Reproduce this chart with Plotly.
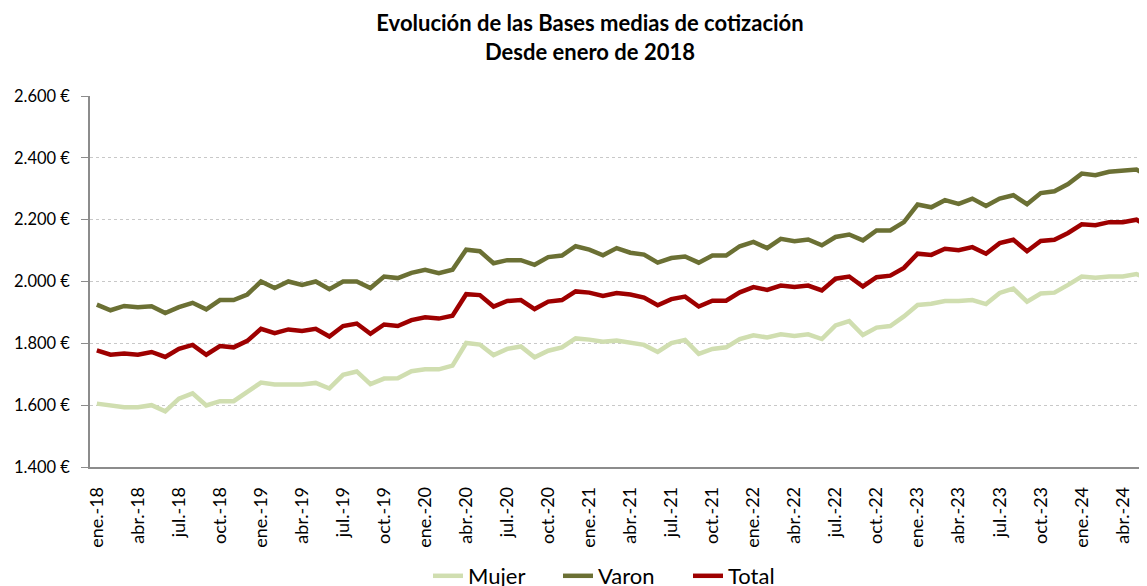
import plotly.graph_objects as go

# meses (etiquetas del eje X)
meses = ["ene.", "feb.", "mar.", "abr.", "may.", "jun.",
         "jul.", "ago.", "sep.", "oct.", "nov.", "dic."]
anios = ["18", "19", "20", "21", "22", "23", "24"]
fechas = [m + "-" + a for a in anios for m in meses][:78]

# bases medias de cotizacion (euros), ene-18 .. jun-24
mujer = [1605, 1599, 1593, 1593, 1600, 1580, 1621, 1638, 1599, 1613, 1613, 1643,
         1673, 1667, 1667, 1667, 1672, 1654, 1698, 1709, 1668, 1686, 1687, 1710,
         1716, 1716, 1728, 1801, 1796, 1762, 1782, 1790, 1755, 1776, 1787, 1816,
         1812, 1805, 1809, 1803, 1795, 1772, 1801, 1811, 1766, 1782, 1787, 1814,
         1826, 1819, 1829, 1824, 1829, 1814, 1858, 1872, 1827, 1851, 1856, 1887,
         1924, 1928, 1937, 1937, 1940, 1927, 1963, 1977, 1935, 1961, 1964, 1989,
         2016, 2012, 2016, 2016, 2024, 2007]

varon = [1925, 1907, 1921, 1917, 1920, 1898, 1917, 1931, 1910, 1940, 1940, 1958,
         2000, 1979, 2000, 1989, 2000, 1975, 2000, 2000, 1979, 2016, 2011, 2028,
         2038, 2027, 2038, 2103, 2098, 2059, 2069, 2069, 2054, 2079, 2084, 2114,
         2103, 2085, 2108, 2093, 2087, 2061, 2076, 2081, 2061, 2084, 2084, 2114,
         2128, 2108, 2138, 2130, 2136, 2117, 2144, 2152, 2133, 2165, 2165, 2192,
         2249, 2240, 2263, 2251, 2268, 2244, 2268, 2279, 2250, 2286, 2292, 2315,
         2349, 2344, 2355, 2358, 2362, 2337]

total = [1777, 1763, 1767, 1763, 1772, 1756, 1782, 1795, 1763, 1791, 1787, 1808,
         1847, 1833, 1845, 1840, 1847, 1822, 1856, 1864, 1831, 1861, 1856, 1875,
         1884, 1880, 1889, 1959, 1956, 1919, 1937, 1940, 1911, 1935, 1940, 1968,
         1964, 1953, 1963, 1958, 1948, 1923, 1943, 1951, 1919, 1938, 1938, 1965,
         1982, 1973, 1987, 1982, 1987, 1971, 2009, 2016, 1984, 2014, 2019, 2044,
         2090, 2086, 2106, 2101, 2111, 2090, 2124, 2135, 2098, 2131, 2135, 2157,
         2185, 2182, 2192, 2192, 2200, 2175]

y_ticks = [1400, 1600, 1800, 2000, 2200, 2400, 2600]
y_text = ["1.400 €", "1.600 €", "1.800 €", "2.000 €", "2.200 €", "2.400 €", "2.600 €"]

fuente = "Lato"
W, H = 1139, 578  # la pagina desplaza la figura 8px (margen del body)

fig = go.Figure()
fig.add_trace(go.Scatter(x=fechas, y=mujer, name="Mujer", mode="lines",
                         line=dict(color="#D0DEB0", width=4.5)))
fig.add_trace(go.Scatter(x=fechas, y=varon, name="Varon", mode="lines",
                         line=dict(color="#6B7034", width=4.5)))
fig.add_trace(go.Scatter(x=fechas, y=total, name="Total", mode="lines",
                         line=dict(color="#9E0000", width=4.5)))

fig.update_layout(
    width=W, height=H,
    paper_bgcolor="white", plot_bgcolor="white",
    font=dict(family=fuente, color="black", size=17),
    margin=dict(l=82, r=0, t=88, b=119, autoexpand=False),
    title=dict(text="<b>Evolución de las Bases medias de cotización<br>Desde enero de 2018</b>",
               x=582 / W, xanchor="center", y=1 - 23 / H, yanchor="middle",
               font=dict(size=22, family=fuente)),
    showlegend=True,
    legend=dict(orientation="h", xref="container", yref="container",
                x=420 / W, xanchor="left", y=10 / H, yanchor="middle",
                entrywidth=85, entrywidthmode="pixels",
                font=dict(size=22, family=fuente), bgcolor="rgba(0,0,0,0)"),
)

fig.update_xaxes(
    type="category", categoryorder="array", categoryarray=fechas,
    range=[-0.5, 76.77], automargin=False,
    tickmode="array", tickvals=fechas[::3], ticktext=fechas[::3],
    tickangle=-90, ticks="", ticklabelstandoff=11,
    showline=True, linecolor="#8C8C8C", linewidth=1.5,
    showgrid=False, zeroline=False,
    tickfont=dict(size=18),
)

fig.update_yaxes(
    range=[1400, 2600], automargin=False,
    tickmode="array", tickvals=y_ticks, ticktext=y_text,
    ticks="outside", ticklen=7, tickcolor="#8C8C8C", tickwidth=1,
    ticklabelstandoff=8,
    showline=True, linecolor="#8C8C8C", linewidth=1.5,
    showgrid=True, gridcolor="#C8C8C8", griddash="dot", gridwidth=1.2,
    zeroline=False,
    tickfont=dict(size=16.5),
)

fig.write_html("out.html")
